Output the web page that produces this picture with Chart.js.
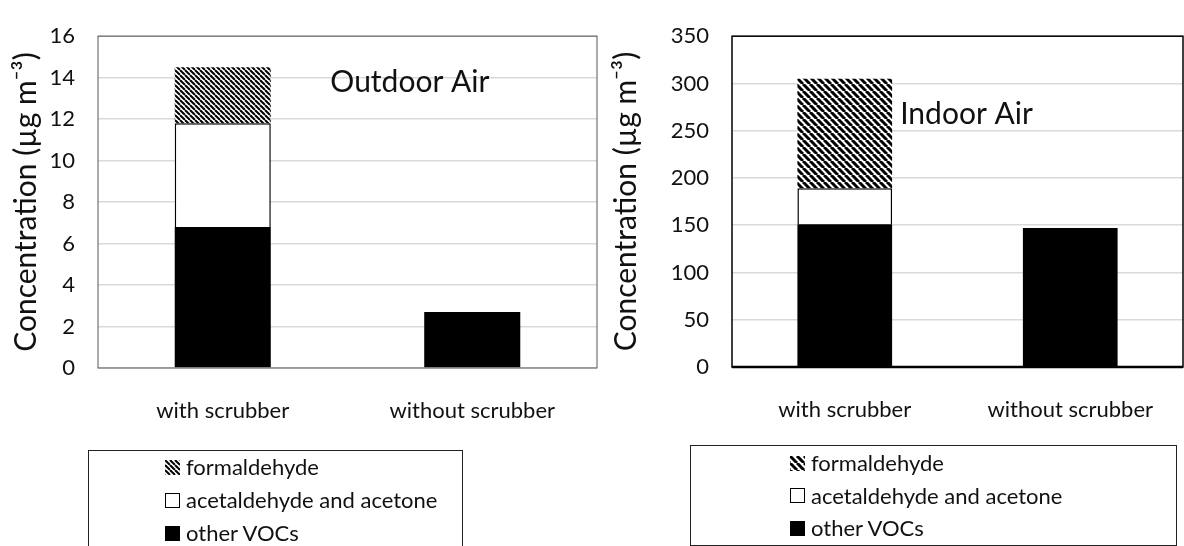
<!DOCTYPE html>
<html>
<head>
<meta charset="utf-8">
<script src="https://cdn.jsdelivr.net/npm/chart.js"></script>
<style>
  body { margin: 0; background: #fff; width: 1184px; height: 546px; overflow: hidden; position: relative; font-family: Lato, sans-serif; }
  .panel { position: absolute; top: 0; height: 440px; }
  .legend { position: absolute; border: 1px solid #222; background: #fff; box-sizing: border-box; }
  .legend .row { position: absolute; display: flex; align-items: center; font-size: 22px; line-height: 26px; color: #111; white-space: nowrap; }
  .legend canvas { margin-right: 6px; }
</style>
</head>
<body>
<div class="panel" style="left:0;width:600px"><canvas id="outdoor"></canvas></div>
<div class="panel" style="left:600px;width:584px"><canvas id="indoor"></canvas></div>
<div class="legend" id="legOut" style="left:88px;top:450px;width:375px;height:110px"></div>
<div class="legend" id="legIn" style="left:690px;top:445px;width:487px;height:101px"></div>

<script>
const categories = ['with scrubber', 'without scrubber'];
const seriesNames = ['other VOCs', 'acetaldehyde and acetone', 'formaldehyde'];

// outdoor air, µg m-3
const outdoorOther = [6.8, 2.7];
const outdoorAcet = [5.0, null];
const outdoorForm = [2.7, null];

// indoor air, µg m-3
const indoorOther = [151, 147];
const indoorAcet = [38, null];
const indoorForm = [116, null];

const outdoorAxis = { max: 16, step: 2 };
const indoorAxis = { max: 350, step: 50 };

const FONT = 'Lato';

function hatch(size, lw) {
  const c = document.createElement('canvas');
  c.width = c.height = size;
  const g = c.getContext('2d');
  g.fillStyle = '#fff';
  g.fillRect(0, 0, size, size);
  g.strokeStyle = '#000';
  g.lineWidth = lw;
  for (const k of [-size, 0, size]) {
    g.beginPath();
    g.moveTo(k, 0);
    g.lineTo(k + size, size);
    g.stroke();
  }
  return g.createPattern(c, 'repeat');
}

// frame around plot area + the "Outdoor Air"/"Indoor Air" caption
const framePlugin = {
  id: 'frame',
  afterDatasetsDraw(chart, args, opts) {
    const { ctx, chartArea: a } = chart;
    ctx.save();
    ctx.strokeStyle = opts.color;
    ctx.lineWidth = opts.width;
    ctx.strokeRect(a.left, a.top, a.right - a.left, a.bottom - a.top);
    if (opts.axisWidth) {
      ctx.lineWidth = opts.axisWidth;
      ctx.beginPath();
      ctx.moveTo(a.left, a.bottom);
      ctx.lineTo(a.right, a.bottom);
      ctx.stroke();
    }
    ctx.fillStyle = '#111';
    ctx.font = '30px ' + FONT;
    ctx.textAlign = 'center';
    ctx.textBaseline = 'middle';
    ctx.fillText(opts.caption, a.left + (a.right - a.left) * opts.cx, a.top + (a.bottom - a.top) * opts.cy);
    ctx.restore();
  }
};

function makeChart(id, data, axis, hatchPat, barPct, pad, yWidth, xHeight, frame) {
  const [other, acet, form] = data;
  return new Chart(document.getElementById(id), {
    type: 'bar',
    data: {
      labels: categories,
      datasets: [
        { label: seriesNames[0], data: other, backgroundColor: '#000', borderWidth: 0 },
        { label: seriesNames[1], data: acet, backgroundColor: '#fff', borderColor: '#000', borderWidth: 1.5 },
        { label: seriesNames[2], data: form, backgroundColor: hatchPat, borderWidth: 0 }
      ]
    },
    options: {
      responsive: false,
      animation: false,
      layout: { padding: pad },
      datasets: { bar: { barPercentage: barPct, categoryPercentage: 1 } },
      plugins: {
        legend: { display: false },
        tooltip: { enabled: false },
        frame: frame
      },
      scales: {
        x: {
          stacked: true,
          grid: { display: false },
          border: { display: false },
          ticks: { color: '#111', padding: 22, font: { family: FONT, size: 22 } },
          afterFit(s) { s.height = xHeight; }
        },
        y: {
          stacked: true,
          min: 0,
          max: axis.max,
          grid: { color: '#d9d9d9', lineWidth: 1.5, drawTicks: false },
          border: { display: false },
          ticks: { stepSize: axis.step, color: '#111', padding: 23, font: { family: FONT, size: 22 } },
          title: { display: true, text: 'Concentration (µg m⁻³)', color: '#111', padding: { top: 8, bottom: 0 }, font: { family: FONT, size: 30 } },
          afterFit(s) { s.width = yWidth; }
        }
      }
    },
    plugins: [framePlugin]
  });
}

function sizeCanvas(id, w, h) {
  const c = document.getElementById(id);
  c.width = w; c.height = h;
  c.style.width = w + 'px'; c.style.height = h + 'px';
}
sizeCanvas('outdoor', 600, 440);
sizeCanvas('indoor', 584, 440);

const outChart = makeChart('outdoor', [outdoorOther, outdoorAcet, outdoorForm], outdoorAxis,
  hatch(5, 2), 0.385, { top: 24, right: 3, left: 0, bottom: 0 }, 98, 72,
  { color: '#595959', width: 1, axisWidth: 0, caption: 'Outdoor Air', cx: 0.625, cy: 0.14 });

const inChart = makeChart('indoor', [indoorOther, indoorAcet, indoorForm], indoorAxis,
  hatch(7, 3), 0.42, { top: 29, right: 1, left: 0, bottom: 0 }, 132, 73,
  { color: '#000', width: 1.5, axisWidth: 2.5, caption: 'Indoor Air', cx: 0.52, cy: 0.235 });

// legend boxes, listed top-down in reverse stacking order
function buildLegend(boxId, chart, x0, y0, dy) {
  const box = document.getElementById(boxId);
  const sets = chart.data.datasets.slice().reverse();
  sets.forEach((ds, i) => {
    const row = document.createElement('div');
    row.className = 'row';
    row.style.left = x0 + 'px';
    row.style.top = (y0 + i * dy) + 'px';
    const sw = document.createElement('canvas');
    sw.width = 15; sw.height = 15;
    const g = sw.getContext('2d');
    g.fillStyle = ds.backgroundColor;
    g.fillRect(0, 0, 15, 15);
    if (ds.borderWidth) {
      g.strokeStyle = '#000';
      g.lineWidth = 1;
      g.strokeRect(0.5, 0.5, 14, 14);
    }
    row.appendChild(sw);
    const t = document.createElement('span');
    t.textContent = ds.label;
    row.appendChild(t);
    box.appendChild(row);
  });
}
buildLegend('legOut', outChart, 76, 3, 33);
buildLegend('legIn', inChart, 99, 4, 32.5);
</script>
</body>
</html>
